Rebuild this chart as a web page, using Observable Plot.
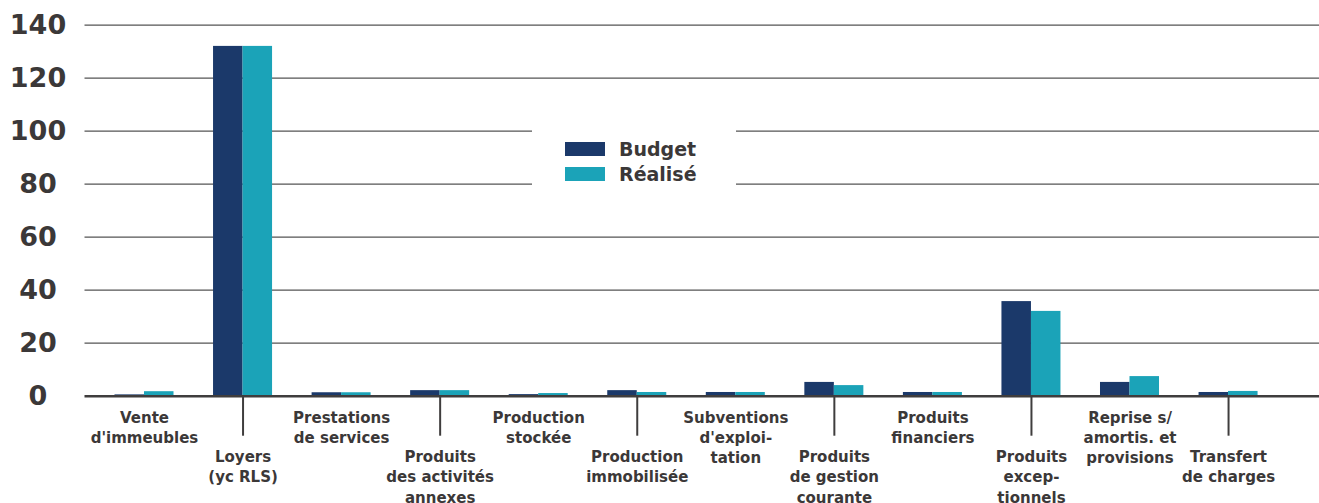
<!DOCTYPE html>
<html>
<head>
<meta charset="utf-8">
<script src="https://cdn.jsdelivr.net/npm/d3@7"></script>
<script src="https://cdn.jsdelivr.net/npm/@observablehq/plot@0.6"></script>
<style>
  html, body { margin: 0; padding: 0; background: #fff; }
  #wrap { position: relative; width: 1319px; height: 503px; font-family: "DejaVu Sans", sans-serif; }
  #legend { position: absolute; left: 532px; top: 124px; width: 204px; height: 64px; background: #fff; }
  .row { position: absolute; left: 33px; display: flex; align-items: center; height: 20px; }
  .sw { width: 40px; height: 14px; margin-right: 14px; }
  .lab { font-weight: bold; font-size: 19px; color: #3b3838; line-height: 20px; }
</style>
</head>
<body>
<div id="wrap"></div>
<script>
// Data
const categories = [
  "Vente\nd'immeubles",
  "Loyers\n(yc RLS)",
  "Prestations\nde services",
  "Produits\ndes activités\nannexes",
  "Production\nstockée",
  "Production\nimmobilisée",
  "Subventions\nd'exploi-\ntation",
  "Produits\nde gestion\ncourante",
  "Produits\nfinanciers",
  "Produits\nexcep-\ntionnels",
  "Reprise s/\namortis. et\nprovisions",
  "Transfert\nde charges"
];
const budget  = [0.5, 132, 1.3, 2.1, 0.6, 2.1, 1.4, 5.2, 1.4, 35.7, 5.2, 1.4];
const realise = [1.7, 132, 1.3, 2.1, 1.0, 1.4, 1.4, 4.0, 1.4, 32.0, 7.4, 1.8];
const seriesNames = ["Budget", "Réalisé"];
const seriesColors = ["#1b396a", "#1ba3b8"];
const yTicks = [0, 20, 40, 60, 80, 100, 120, 140];

const budgetData = categories.map((c, i) => ({cat: c, value: budget[i]}));
const realiseData = categories.map((c, i) => ({cat: c, value: realise[i]}));
const topRow = categories.filter((c, i) => i % 2 === 0);
const lowRow = categories.filter((c, i) => i % 2 === 1);

const textColor = "#3b3838";
const half = 49.27, barW = 29.5;

const chart = Plot.plot({
  width: 1319,
  height: 503,
  marginLeft: 84.5,
  marginRight: 0,
  marginTop: 24.7,
  marginBottom: 107.3,
  style: {fontFamily: "DejaVu Sans, sans-serif", background: "#fff"},
  x: {type: "band", domain: categories, paddingInner: 0, paddingOuter: 0.2633, align: 0.197, round: false, axis: null, label: null},
  y: {domain: [0, 140], axis: null},
  marks: [
    Plot.ruleY(yTicks.filter(d => d > 0), {stroke: "#555", strokeWidth: 1.3}),
    Plot.barY(budgetData, {x: "cat", y: "value", fill: seriesColors[0], insetLeft: half - barW, insetRight: half}),
    Plot.barY(realiseData, {x: "cat", y: "value", fill: seriesColors[1], insetLeft: half, insetRight: half - barW}),
    Plot.ruleY([0], {stroke: "#3f3d3d", strokeWidth: 2.4}),
    Plot.axisX(lowRow, {tickSize: 40, tickFormat: () => "", label: null, stroke: "#3f3d3d", strokeWidth: 2, tickPadding: 0}),
    Plot.text(topRow, {x: d => d, y: () => 0, text: d => d, dy: 12.3, lineAnchor: "top", lineHeight: 1.35,
      fontSize: 15, fontWeight: "bold", fill: textColor}),
    Plot.text(lowRow, {x: d => d, y: () => 0, text: d => d, dy: 51.5, lineAnchor: "top", lineHeight: 1.35,
      fontSize: 15, fontWeight: "bold", fill: textColor}),
    Plot.text(yTicks, {y: d => d, text: d => String(d), frameAnchor: "left", dx: -47, textAnchor: "middle",
      fontSize: 27, fontWeight: "bold", fill: textColor})
  ]
});

const wrap = document.getElementById("wrap");
wrap.appendChild(chart);

const legend = document.createElement("div");
legend.id = "legend";
seriesNames.forEach((name, i) => {
  const row = document.createElement("div");
  row.className = "row";
  row.style.top = (15 + i * 25) + "px";
  const sw = document.createElement("div");
  sw.className = "sw";
  sw.style.background = seriesColors[i];
  const lab = document.createElement("span");
  lab.className = "lab";
  lab.textContent = name;
  row.appendChild(sw);
  row.appendChild(lab);
  legend.appendChild(row);
});
wrap.appendChild(legend);
</script>
</body>
</html>
